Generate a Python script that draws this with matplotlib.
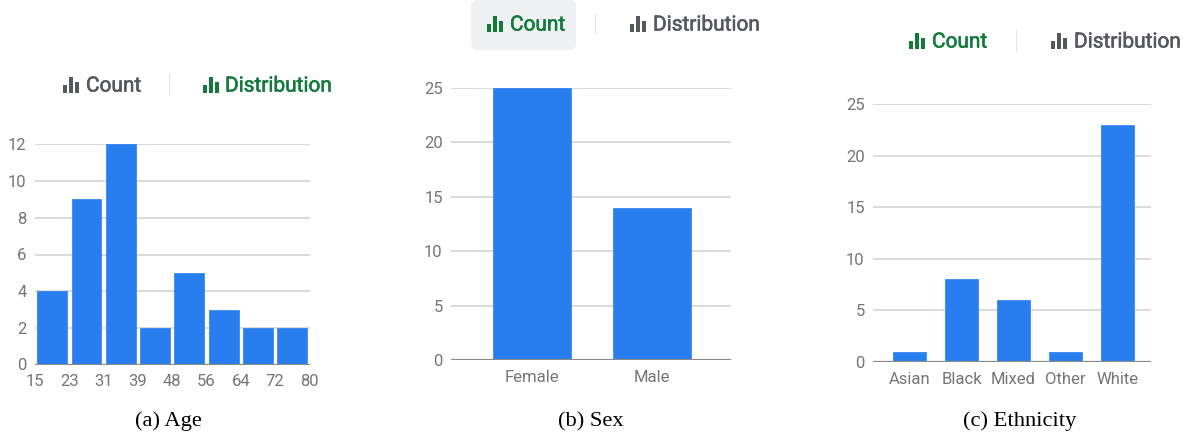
import matplotlib
matplotlib.use("Agg")
import matplotlib.pyplot as plt
import matplotlib.patheffects as pe
from matplotlib.patches import Rectangle, FancyBboxPatch

W, H = 1189, 436

age_edges = [15, 23, 31, 39, 48, 56, 64, 72, 80]
age_counts = [4, 9, 12, 2, 5, 3, 2, 2]
sex_labels = ["Female", "Male"]
sex_counts = [25, 14]
eth_labels = ["Asian", "Black", "Mixed", "Other", "White"]
eth_counts = [1, 8, 6, 1, 23]
age_yticks = [0, 2, 4, 6, 8, 10, 12]
cat_yticks = [0, 5, 10, 15, 20, 25]
captions = ["(a) Age", "(b) Sex", "(c) Ethnicity"]

BLUE = "#287EEF"
GRID = "#D4D4D4"
BASE = "#8A8A8A"
TICK = "#757575"
GREEN = "#137A3C"
DARK = "#55585C"

fig = plt.figure(figsize=(W / 100, H / 100), dpi=100, facecolor="white")
plt.rcParams["font.family"] = ["Roboto", "DejaVu Sans"]


def make_axes(x0, x1, y_bottom, y_top):
    ax = fig.add_axes([x0 / W, 1 - y_bottom / H, (x1 - x0) / W, (y_bottom - y_top) / H])
    for s in ax.spines.values():
        s.set_visible(False)
    ax.set_facecolor("none")
    ax.set_axisbelow(True)
    ax.grid(axis="y", color=GRID, lw=1.2)
    ax.grid(axis="x", visible=False)
    ax.axhline(0, color=BASE, lw=1.6, zorder=4)
    ax.tick_params(length=0, labelsize=12, labelcolor=TICK, pad=6)
    ax.tick_params(axis="x", pad=7)
    return ax


def draw_bars(ax, xs, ys, width):
    ax.bar(xs, ys, width=width, color=BLUE, edgecolor=BLUE, lw=0.5,
           joinstyle="round", zorder=3)


def px_rect(x, y, w, h, color):
    fig.add_artist(Rectangle((x / W, 1 - (y + h) / H), w / W, h / H,
                             transform=fig.transFigure, color=color, lw=0))


def icon(x, y_base, color):
    px_rect(x, y_base - 8, 4, 8, color)
    px_rect(x + 6, y_base - 16, 4, 16, color)
    px_rect(x + 12, y_base - 11, 4, 11, color)


def label(x, y, s, color):
    fig.text(x / W, 1 - y / H, s, color=color, fontsize=15, va="center", ha="left",
             path_effects=[pe.withStroke(linewidth=0.4, foreground=color)])


def toggle(x_icon1, x_text1, x_sep, x_icon2, x_text2, yc, active):
    c1, c2 = (GREEN, DARK) if active == 0 else (DARK, GREEN)
    icon(x_icon1, yc + 8, c1)
    icon(x_icon2, yc + 8, c2)
    label(x_text1, yc + 1, "Count", c1)
    label(x_text2, yc + 1, "Distribution", c2)
    px_rect(x_sep, yc - 11, 1, 22, "#E3E3E3")


# (a) Age histogram
ax = make_axes(35, 309.5, 364.5, 144.5)
ax.set_xlim(0, len(age_counts))
ax.set_ylim(0, 12)
draw_bars(ax, [i + 0.5 for i in range(len(age_counts))], age_counts, 0.87)
ax.set_yticks(age_yticks)
ax.set_xticks(range(len(age_edges)))
ax.set_xticklabels(age_edges)

# (b) Sex
ax = make_axes(451, 731, 360, 88)
ax.set_xlim(-0.675, 1.658)
ax.set_ylim(0, 25)
draw_bars(ax, range(len(sex_labels)), sex_counts, 0.645)
ax.set_yticks(cat_yticks)
ax.set_xticks(range(len(sex_labels)))
ax.set_xticklabels(sex_labels)

# (c) Ethnicity
ax = make_axes(873, 1151, 362, 104)
ax.set_xlim(-0.705, 4.65)
ax.set_ylim(0, 25)
draw_bars(ax, range(len(eth_labels)), eth_counts, 0.635)
ax.set_yticks(cat_yticks)
ax.set_xticks(range(len(eth_labels)))
ax.set_xticklabels(eth_labels)

# Toggle headers
fig.add_artist(FancyBboxPatch((471 / W, 1 - 50 / H), 105 / W, 50 / H, transform=fig.transFigure,
                              boxstyle="round,pad=0,rounding_size=0.005", fc="#EFF0F2", ec="none",
                              mutation_aspect=W / H))
toggle(63, 86, 169, 203, 225, 85, 1)
toggle(487, 510, 595, 630, 653, 24, 0)
toggle(909, 932, 1016, 1051, 1074, 41, 0)

for xc, t in zip([168, 591, 1020], captions):
    fig.text(xc / W, 1 - 421.5 / H, t, family="Liberation Serif", fontsize=16.2,
             color="black", ha="center", va="center")

fig.savefig("out.png", dpi=100)
